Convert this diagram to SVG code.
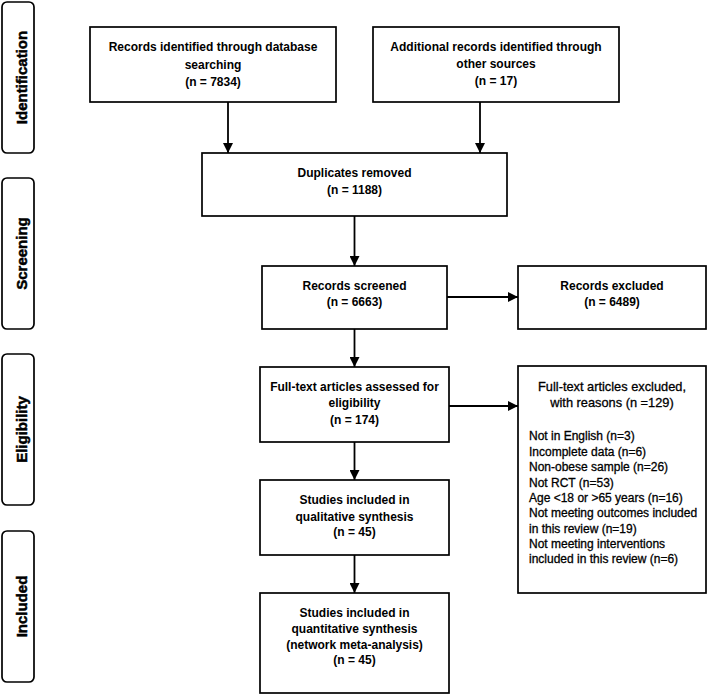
<svg xmlns="http://www.w3.org/2000/svg" width="709" height="696" viewBox="0 0 709 696">
<style>
  .phase { fill: #fff; stroke: #000; stroke-width: 1.7; }
  .phase-t { font-family: "Liberation Sans", Arial, sans-serif; font-weight: 700; font-size: 15px; fill: #000; stroke: #000; stroke-width: 0.5; text-anchor: middle; }
  .box { fill: #fff; stroke: #000; stroke-width: 1.7; }
  .t { font-family: "Liberation Sans", Arial, sans-serif; font-weight: 700; font-size: 12px; fill: #000; text-anchor: middle; }
  .r { font-family: "Liberation Sans", Arial, sans-serif; font-size: 12px; fill: #000; stroke: #000; stroke-width: 0.3; }
  .rh { font-family: "Liberation Sans", Arial, sans-serif; font-size: 12.8px; fill: #000; stroke: #000; stroke-width: 0.3; text-anchor: middle; }
  .conn { fill: none; stroke: #000; stroke-width: 1.8; marker-end: url(#arrow); }
</style>
<defs>
  <marker id="arrow" viewBox="0 0 10 10" refX="10" refY="5" markerWidth="10" markerHeight="10" markerUnits="userSpaceOnUse" orient="auto">
    <path d="M0,0 L10,5 L0,10 z" fill="#000"/>
  </marker>
</defs>
<rect width="709" height="696" fill="#fff"/>

<g id="phase-identification">
  <rect class="phase" x="2" y="2" width="32" height="151" rx="5"/>
  <text class="phase-t" transform="translate(26.5,77.5) rotate(-90)">Identification</text>
</g>
<g id="phase-screening">
  <rect class="phase" x="2" y="178" width="32" height="151" rx="5"/>
  <text class="phase-t" transform="translate(26.5,253.5) rotate(-90)">Screening</text>
</g>
<g id="phase-eligibility">
  <rect class="phase" x="2" y="354" width="32" height="151" rx="5"/>
  <text class="phase-t" transform="translate(26.5,429.5) rotate(-90)">Eligibility</text>
</g>
<g id="phase-included">
  <rect class="phase" x="2" y="531" width="32" height="151" rx="5"/>
  <text class="phase-t" transform="translate(26.5,606.5) rotate(-90)">Included</text>
</g>

<g id="connectors">
  <line class="conn" x1="228" y1="102" x2="228" y2="153"/>
  <line class="conn" x1="480" y1="102" x2="480" y2="153"/>
  <line class="conn" x1="354.5" y1="216" x2="354.5" y2="266"/>
  <line class="conn" x1="447" y1="297" x2="518" y2="297"/>
  <line class="conn" x1="354.5" y1="329" x2="354.5" y2="367"/>
  <line class="conn" x1="449" y1="406" x2="518" y2="406"/>
  <line class="conn" x1="354.5" y1="442" x2="354.5" y2="480"/>
  <line class="conn" x1="354.5" y1="555" x2="354.5" y2="593"/>
</g>

<g id="db-records">
  <rect class="box" x="90" y="27" width="246" height="75"/>
  <text class="t" x="213" y="51">Records identified through database</text>
  <text class="t" x="213" y="68.5">searching</text>
  <text class="t" x="213" y="86">(n = 7834)</text>
</g>
<g id="other-records">
  <rect class="box" x="373" y="27" width="246" height="75"/>
  <text class="t" x="496" y="51">Additional records identified through</text>
  <text class="t" x="496" y="67.5">other sources</text>
  <text class="t" x="496" y="85">(n = 17)</text>
</g>
<g id="duplicates">
  <rect class="box" x="202" y="153" width="305" height="63"/>
  <text class="t" x="354.5" y="177">Duplicates removed</text>
  <text class="t" x="354.5" y="194">(n = 1188)</text>
</g>
<g id="screened">
  <rect class="box" x="262" y="266" width="185" height="63"/>
  <text class="t" x="354.5" y="290">Records screened</text>
  <text class="t" x="354.5" y="306">(n = 6663)</text>
</g>
<g id="excluded">
  <rect class="box" x="518" y="266" width="188" height="63"/>
  <text class="t" x="612" y="290">Records excluded</text>
  <text class="t" x="612" y="306">(n = 6489)</text>
</g>
<g id="fulltext">
  <rect class="box" x="260" y="367" width="189" height="75"/>
  <text class="t" x="354.5" y="391">Full-text articles assessed for</text>
  <text class="t" x="354.5" y="407">eligibility</text>
  <text class="t" x="354.5" y="424">(n = 174)</text>
</g>
<g id="fulltext-excluded">
  <rect class="box" x="518" y="366" width="188" height="227"/>
  <text class="rh" x="612" y="391">Full-text articles excluded,</text>
  <text class="rh" x="612" y="407">with reasons (n =129)</text>
  <text class="r" x="529" y="440">Not in English (n=3)</text>
  <text class="r" x="529" y="456">Incomplete data (n=6)</text>
  <text class="r" x="529" y="471">Non-obese sample (n=26)</text>
  <text class="r" x="529" y="487">Not RCT (n=53)</text>
  <text class="r" x="529" y="502">Age &lt;18 or &gt;65 years (n=16)</text>
  <text class="r" x="529" y="517">Not meeting outcomes included</text>
  <text class="r" x="529" y="533">in this review (n=19)</text>
  <text class="r" x="529" y="548">Not meeting interventions</text>
  <text class="r" x="529" y="563">included in this review (n=6)</text>
</g>
<g id="qualitative">
  <rect class="box" x="260" y="480" width="189" height="75"/>
  <text class="t" x="354.5" y="504">Studies included in</text>
  <text class="t" x="354.5" y="520.5">qualitative synthesis</text>
  <text class="t" x="354.5" y="536">(n = 45)</text>
</g>
<g id="quantitative">
  <rect class="box" x="260" y="593" width="189" height="100"/>
  <text class="t" x="354.5" y="617">Studies included in</text>
  <text class="t" x="354.5" y="632.5">quantitative synthesis</text>
  <text class="t" x="354.5" y="649">(network meta-analysis)</text>
  <text class="t" x="354.5" y="664">(n = 45)</text>
</g>
</svg>
